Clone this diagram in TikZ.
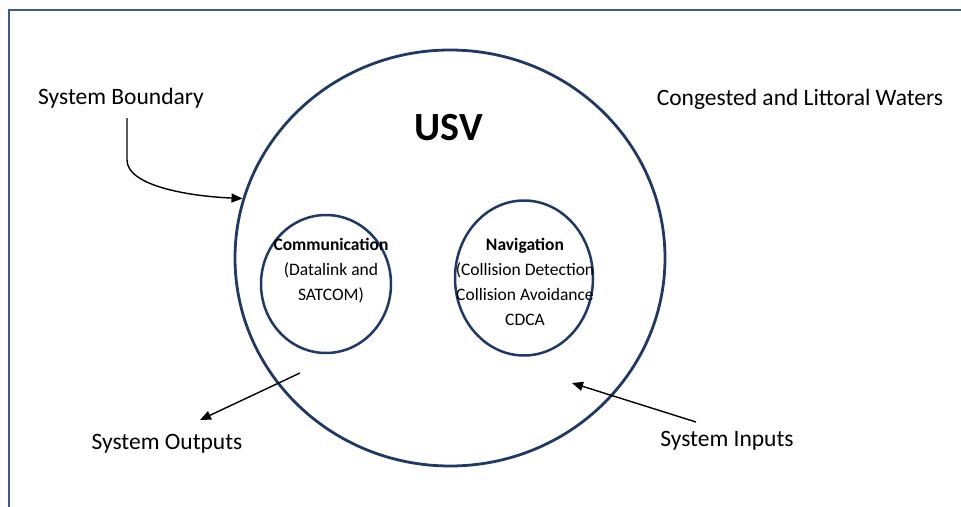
\documentclass[tikz,border=0pt]{standalone}
\usepackage{fontspec}
\setmainfont{Carlito}
\usetikzlibrary{shapes.geometric,arrows.meta}
\definecolor{navy}{HTML}{1F3864}
\definecolor{framec}{HTML}{3F5A85}
\begin{document}
\begin{tikzpicture}[x=1pt,y=-1pt]
\tikzset{
  ring/.style={draw=navy, line width=2.8pt, ellipse, inner sep=0pt},
  lbl/.style={font=\fontsize{23.5}{28}\selectfont, text=black, inner sep=0pt},
  sub/.style={font=\fontsize{17.5}{25}\selectfont, align=center, inner sep=0pt},
  arr/.style={line width=1.4pt, -{Triangle[length=11pt,width=9pt]}},
  framel/.style={draw=framec, line width=1.5pt}
}
\useasboundingbox (0,0) rectangle (961,506);
\coordinate (fr1) at (970,10);
\coordinate (fr2) at (9,10);
\coordinate (fr3) at (9,515);
\draw[framel] (fr1) -- (fr2) -- (fr3);

\node[ring, minimum width=430pt, minimum height=416pt] (usv) at (450,258) {};
\node[font=\bfseries\fontsize{40}{48}\selectfont, inner sep=0pt] (usvlbl) at (449,128) {USV};

\node[ring, line width=2.5pt, minimum width=130pt, minimum height=138pt] (comm) at (326,284) {};
\node[sub] (commtxt) at (331,271) {\textbf{Communication}\\(Datalink and\\SATCOM)};

\node[ring, line width=2.5pt, minimum width=138pt, minimum height=155pt] (nav) at (524,278) {};
\node[sub] (navtxt) at (525,282) {\textbf{Navigation}\\(Collision Detection\\Collision Avoidance\\CDCA};

\node[lbl] (sb) at (121,98) {System Boundary};
\node[lbl] (cw) at (800,99) {Congested and Littoral Waters};
\node[lbl] (so) at (167,444) {System Outputs};
\node[lbl] (si) at (727,441) {System Inputs};

\coordinate (sbstart) at (127,118);
\coordinate (sbbend) at (127,160);
\draw[arr] (sbstart) -- (sbbend) .. controls (127,185) and (185,196) .. (usv.164);

\coordinate (outstart) at (300,373);
\coordinate (outend) at (200,420);
\draw[arr] (outstart) -- (outend);

\coordinate (instart) at (696,422);
\coordinate (inend) at (572,383);
\draw[arr] (instart) -- (inend);
\end{tikzpicture}
\end{document}
